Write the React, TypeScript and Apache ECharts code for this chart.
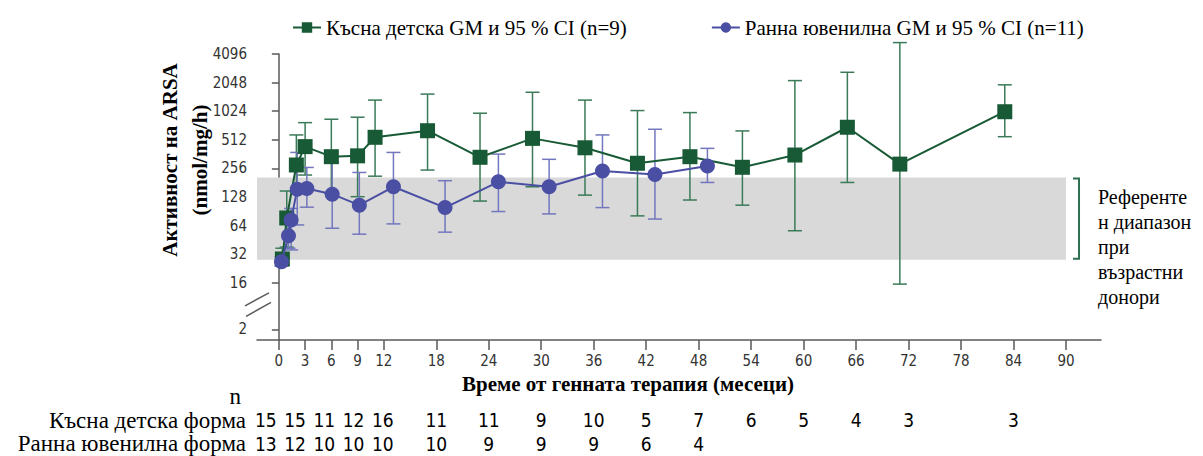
import React, { useEffect, useRef } from 'react';
import * as echarts from 'echarts';

const LATE_NAME = 'Късна детска GM и 95 % CI (n=9)';
const EARLY_NAME = 'Ранна ювенилна GM и 95 % CI (n=11)';

// Late infantile (green)
const lateMonths = [0.4, 0.9, 2, 3, 6, 9, 11, 17, 23, 29, 35, 41, 47, 53, 59, 65, 71, 83];
const lateGM = [28.5, 77, 278, 434, 340, 347, 544, 638, 335, 530, 422, 290, 340, 263, 354, 694, 284, 1011];
const lateLow = [25, 38, 146, 218, 140, 129, 212, 246, 116, 164, 134, 81, 119, 105, 56.5, 182, 15.5, 552];
const lateHigh = [37, 148, 576, 776, 843, 885, 1340, 1550, 975, 1620, 1340, 1040, 990, 635, 2150, 2630, 5400, 1940];

// Early juvenile (blue)
const earlyMonths = [0.3, 1.1, 1.4, 2.1, 3.2, 6.1, 9.2, 13.1, 19, 25.1, 30.9, 37, 43, 49];
const earlyGM = [26.7, 50, 73.5, 154, 157, 137, 105, 164, 99, 185, 164, 240, 221, 271];
const earlyLow = [24, 37, 35.5, 65, 100, 60, 52, 66.7, 54.6, 90, 85, 99, 75, 182];
const earlyHigh = [30, 66, 97, 377, 262, 296, 232, 377, 190, 362, 319, 576, 661, 416];

const xTickValues = [0, 3, 6, 9, 12, 18, 24, 30, 36, 42, 48, 54, 60, 66, 72, 78, 84, 90];
const yTickValues = [2, 16, 32, 64, 128, 256, 512, 1024, 2048, 4096];
const refRange = [28, 205];

const nMonths = [0, 3, 6, 9, 12, 18, 24, 30, 36, 42, 48, 54, 60, 66, 72, 84];
const nLate = [15, 15, 11, 12, 16, 11, 11, 9, 10, 5, 7, 6, 5, 4, 3, 3];
const nEarly = [13, 12, 10, 10, 10, 10, 9, 9, 9, 6, 4];
const nRowLabels = ['Късна детска форма', 'Ранна ювенилна форма'];

const X_TITLE = 'Време от генната терапия (месеци)';
const Y_TITLE = 'Активност на ARSA\n(nmol/mg/h)';
const REF_TEXT = 'Референте\nн диапазон\nпри\nвъзрастни\nдонори';

const GREEN = '#175a35';
const GREEN_ERR = '#3a7a57';
const BLUE = '#4a4fa3';
const BLUE_ERR = '#7377bd';
const SERIF = '"Liberation Serif", "Times New Roman", serif';
const NARROW = '"Liberation Sans Narrow", "DejaVu Sans Condensed", "Open Sans", sans-serif';

const BREAK_T = 2.37; // axis position used for the value 2 below the break
const toAxis = (v: number) => (v <= 2 ? BREAK_T : Math.log2(v));

function errorSeries(name: string, color: string, months: number[], low: number[], high: number[]) {
  return {
    type: 'custom',
    name,
    z: 1,
    clip: false,
    silent: true,
    data: months.map((m, i) => [m, toAxis(low[i]), toAxis(high[i])]),
    encode: { x: 0, y: [1, 2] },
    renderItem: (_params: any, api: any) => {
      const x = api.value(0);
      const p1 = api.coord([x, api.value(1)]);
      const p2 = api.coord([x, api.value(2)]);
      const hw = 7;
      const st = { stroke: color, lineWidth: 1.5 };
      return {
        type: 'group',
        children: [
          { type: 'line', shape: { x1: p1[0], y1: p1[1], x2: p2[0], y2: p2[1] }, style: st },
          { type: 'line', shape: { x1: p1[0] - hw, y1: p1[1], x2: p1[0] + hw, y2: p1[1] }, style: st },
          { type: 'line', shape: { x1: p2[0] - hw, y1: p2[1], x2: p2[0] + hw, y2: p2[1] }, style: st },
        ],
      };
    },
  };
}

export default function App() {
  const ref = useRef<HTMLDivElement>(null);
  useEffect(() => {
    if (!ref.current) return;
    const chart = echarts.init(ref.current, undefined, { renderer: 'svg' });
    const option: any = {
      animation: false,
      backgroundColor: '#ffffff',
      grid: { left: 257, right: 102, top: 54, bottom: 116, containLabel: false },
      legend: {
        data: [LATE_NAME, EARLY_NAME],
        left: 287,
        top: 12,
        itemWidth: 28,
        itemHeight: 13,
        itemGap: 84,
        textStyle: { fontFamily: SERIF, fontSize: 21, color: '#000' },
      },
      xAxis: {
        type: 'value',
        min: -2.5,
        max: 94,
        axisLine: { show: true, lineStyle: { color: '#595959', width: 1.5 } },
        axisTick: { show: true, length: 10, customValues: xTickValues, lineStyle: { color: '#595959', width: 1.5 } },
        axisLabel: {
          customValues: xTickValues,
          margin: 13,
          fontFamily: NARROW,
          fontSize: 15,
          color: '#333',
        },
        splitLine: { show: false },
      },
      yAxis: {
        type: 'value',
        min: 2,
        max: 12,
        axisLine: { show: true, lineStyle: { color: '#595959', width: 1.5 } },
        axisTick: { show: true, length: 7, customValues: yTickValues.map(toAxis), lineStyle: { color: '#595959', width: 1.5 } },
        axisLabel: {
          customValues: yTickValues.map(toAxis),
          margin: 10,
          fontFamily: NARROW,
          fontSize: 15,
          color: '#333',
          formatter: (v: number) => (v < 3 ? '2' : String(Math.round(Math.pow(2, v)))),
        },
        splitLine: { show: false },
      },
      series: [
        {
          type: 'line',
          name: 'ref',
          data: [],
          z: 0,
          silent: true,
          markArea: {
            silent: true,
            itemStyle: { color: '#d9d9d9' },
            data: [[{ xAxis: -2.5, yAxis: toAxis(refRange[0]) }, { xAxis: 90, yAxis: toAxis(refRange[1]) }]],
          },
        },
        errorSeries('late CI', GREEN_ERR, lateMonths, lateLow, lateHigh),
        errorSeries('early CI', BLUE_ERR, earlyMonths, earlyLow, earlyHigh),
        {
          type: 'line',
          name: LATE_NAME,
          z: 3,
          data: lateMonths.map((m, i) => [m, toAxis(lateGM[i])]),
          symbol: 'rect',
          symbolSize: 15,
          lineStyle: { color: GREEN, width: 2 },
          itemStyle: { color: GREEN },
        },
        {
          type: 'line',
          name: EARLY_NAME,
          z: 4,
          data: earlyMonths.map((m, i) => [m, toAxis(earlyGM[i])]),
          symbol: 'circle',
          symbolSize: 15,
          lineStyle: { color: BLUE, width: 2 },
          itemStyle: { color: BLUE },
        },
      ],
    };
    chart.setOption(option);

    const px = (x: number, y: number) => chart.convertToPixel({ gridIndex: 0 }, [x, y]) as number[];
    const axisX = px(-2.5, 4)[0];
    const y16 = px(0, 4)[1];
    const y2 = px(0, BREAK_T)[1];
    const gapTop = y16 + 15;
    const gapBot = y2 - 18;
    const refTop = px(90, toAxis(refRange[1]));
    const refBot = px(90, toAxis(refRange[0]));
    const bx = refTop[0] + 13;

    const graphic: any[] = [
      // axis break
      { type: 'rect', shape: { x: axisX - 3, y: gapTop, width: 6, height: gapBot - gapTop }, style: { fill: '#fff' }, z: 100 },
      { type: 'line', shape: { x1: axisX - 12, y1: gapTop + 8, x2: axisX + 12, y2: gapTop - 5 }, style: { stroke: '#595959', lineWidth: 1.5 }, z: 101 },
      { type: 'line', shape: { x1: axisX - 11, y1: gapBot + 5, x2: axisX + 14, y2: gapBot - 9 }, style: { stroke: '#595959', lineWidth: 1.5 }, z: 101 },
      // reference bracket
      {
        type: 'polyline',
        shape: { points: [[bx - 6, refTop[1] + 1], [bx, refTop[1] + 1], [bx, refBot[1] - 1], [bx - 6, refBot[1] - 1]] },
        style: { stroke: '#2e7050', lineWidth: 2, fill: null },
        z: 100,
      },
      {
        type: 'text',
        x: bx + 19,
        y: 247,
        style: { text: REF_TEXT, font: `20px ${SERIF}`, fill: '#000', textAlign: 'left', textVerticalAlign: 'middle', lineHeight: 25 },
        z: 100,
      },
      // axis titles
      {
        type: 'text',
        x: 185,
        y: 160,
        rotation: Math.PI / 2,
        style: { text: Y_TITLE, font: `bold 21px ${SERIF}`, fill: '#000', textAlign: 'center', textVerticalAlign: 'middle', lineHeight: 30 },
        z: 100,
      },
      {
        type: 'text',
        x: 628,
        y: 384,
        style: { text: X_TITLE, font: `bold 21px ${SERIF}`, fill: '#000', textAlign: 'center', textVerticalAlign: 'middle' },
        z: 100,
      },
      // n table
      { type: 'text', x: 241, y: 396, style: { text: 'n', font: `23px ${SERIF}`, fill: '#000', textAlign: 'right', textVerticalAlign: 'middle' }, z: 100 },
      { type: 'text', x: 246, y: 420, style: { text: nRowLabels[0], font: `23px ${SERIF}`, fill: '#000', textAlign: 'right', textVerticalAlign: 'middle' }, z: 100 },
      { type: 'text', x: 246, y: 443, style: { text: nRowLabels[1], font: `23px ${SERIF}`, fill: '#000', textAlign: 'right', textVerticalAlign: 'middle' }, z: 100 },
    ];
    const nx = (m: number) => px(m, 4)[0] - (m <= 12 ? 13 - m : 0);
    nLate.forEach((n, i) => {
      graphic.push({ type: 'text', x: nx(nMonths[i]), y: 420, style: { text: String(n), font: `19px ${NARROW}`, fill: '#000', textAlign: 'center', textVerticalAlign: 'middle' }, z: 100 });
    });
    nEarly.forEach((n, i) => {
      graphic.push({ type: 'text', x: nx(nMonths[i]), y: 444, style: { text: String(n), font: `19px ${NARROW}`, fill: '#000', textAlign: 'center', textVerticalAlign: 'middle' }, z: 100 });
    });
    chart.setOption({ graphic });

    return () => chart.dispose();
  }, []);
  return <div ref={ref} style={{ position: 'fixed', left: 0, top: 0, width: 1203, height: 456 }} />;
}
